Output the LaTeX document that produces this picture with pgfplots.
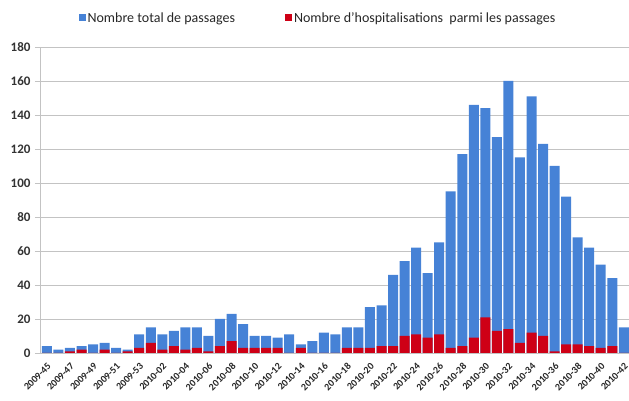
\documentclass[border=0pt]{standalone}
\usepackage{fontspec}
\setmainfont{Carlito}
\usepackage{pgfplots}
\pgfplotsset{compat=1.18}
\definecolor{barblue}{RGB}{70,130,214}
\definecolor{barred}{RGB}{206,0,22}
\definecolor{gridgray}{RGB}{195,195,195}
\begin{document}
\begin{tikzpicture}
\begin{axis}[
  scale only axis, width=589pt, height=306pt,
  xmin=-0.6, xmax=50.45, ymin=0, ymax=180,
  ytick={0,20,...,180},
  xtick={0,2,...,50},
  xticklabels={2009-45,2009-47,2009-49,2009-51,2009-53,2010-02,2010-04,2010-06,2010-08,2010-10,2010-12,2010-14,2010-16,2010-18,2010-20,2010-22,2010-24,2010-26,2010-28,2010-30,2010-32,2010-34,2010-36,2010-38,2010-40,2010-42},
  minor xtick={-0.5,0.5,...,50.5},
  axis lines*=left,
  axis line style={gridgray, line width=0.8pt},
  ymajorgrids, grid style={gridgray, line width=0.8pt},
  tick style={gridgray, line width=0.8pt},
  tick align=outside,
  major tick length=5pt, minor tick length=3pt,
  xtick style={draw=none},
  /pgf/number format/assume math mode=true,
  yticklabel style={font=\fontsize{13}{13}\selectfont\bfseries, text=black!80, xshift=-1pt},
  xticklabel style={font=\fontsize{10}{10}\selectfont\bfseries, rotate=45, anchor=north east, text=black!85, inner sep=1pt, yshift=-2pt, xshift=-2pt},
  ybar, bar shift=0pt, bar width=10pt,
  legend columns=2,
  legend style={draw=none, fill=none, at={(axis description cs:0.472,1.095)}, anchor=center,
    font=\fontsize{14}{14}\selectfont, text=black!85,
    /tikz/every even column/.append style={column sep=48pt}},
  legend image code/.code={\fill[#1] (0pt,-3.5pt) rectangle (7pt,3.5pt);},
]
\addplot[fill=barblue, draw=none] coordinates {
(0,4)(1,2)(2,3)(3,4)(4,5)(5,6)(6,3)(7,2)(8,11)(9,15)
(10,11)(11,13)(12,15)(13,15)(14,10)(15,20)(16,23)(17,17)(18,10)(19,10)
(20,9)(21,11)(22,5)(23,7)(24,12)(25,11)(26,15)(27,15)(28,27)(29,28)
(30,46)(31,54)(32,62)(33,47)(34,65)(35,95)(36,117)(37,146)(38,144)(39,127)
(40,160)(41,115)(42,151)(43,123)(44,110)(45,92)(46,68)(47,62)(48,52)(49,44)
(50,15)};
\addlegendentry{Nombre total de passages}
\addplot[fill=barred, draw=none] coordinates {
(0,0)(1,0)(2,1)(3,2)(4,0)(5,2)(6,0)(7,1)(8,3)(9,6)
(10,2)(11,4)(12,2)(13,3)(14,1)(15,4)(16,7)(17,3)(18,3)(19,3)
(20,3)(21,0)(22,3)(23,0)(24,0)(25,0)(26,3)(27,3)(28,3)(29,4)
(30,4)(31,10)(32,11)(33,9)(34,11)(35,3)(36,4)(37,9)(38,21)(39,13)
(40,14)(41,6)(42,12)(43,10)(44,1)(45,5)(46,5)(47,4)(48,3)(49,4)
(50,0)};
\addlegendentry{Nombre d'hospitalisations\ \ parmi les passages}
\end{axis}
\pgfresetboundingbox
\path[use as bounding box] (-40pt,-48pt) rectangle (589pt,353pt);
\end{tikzpicture}
\end{document}
